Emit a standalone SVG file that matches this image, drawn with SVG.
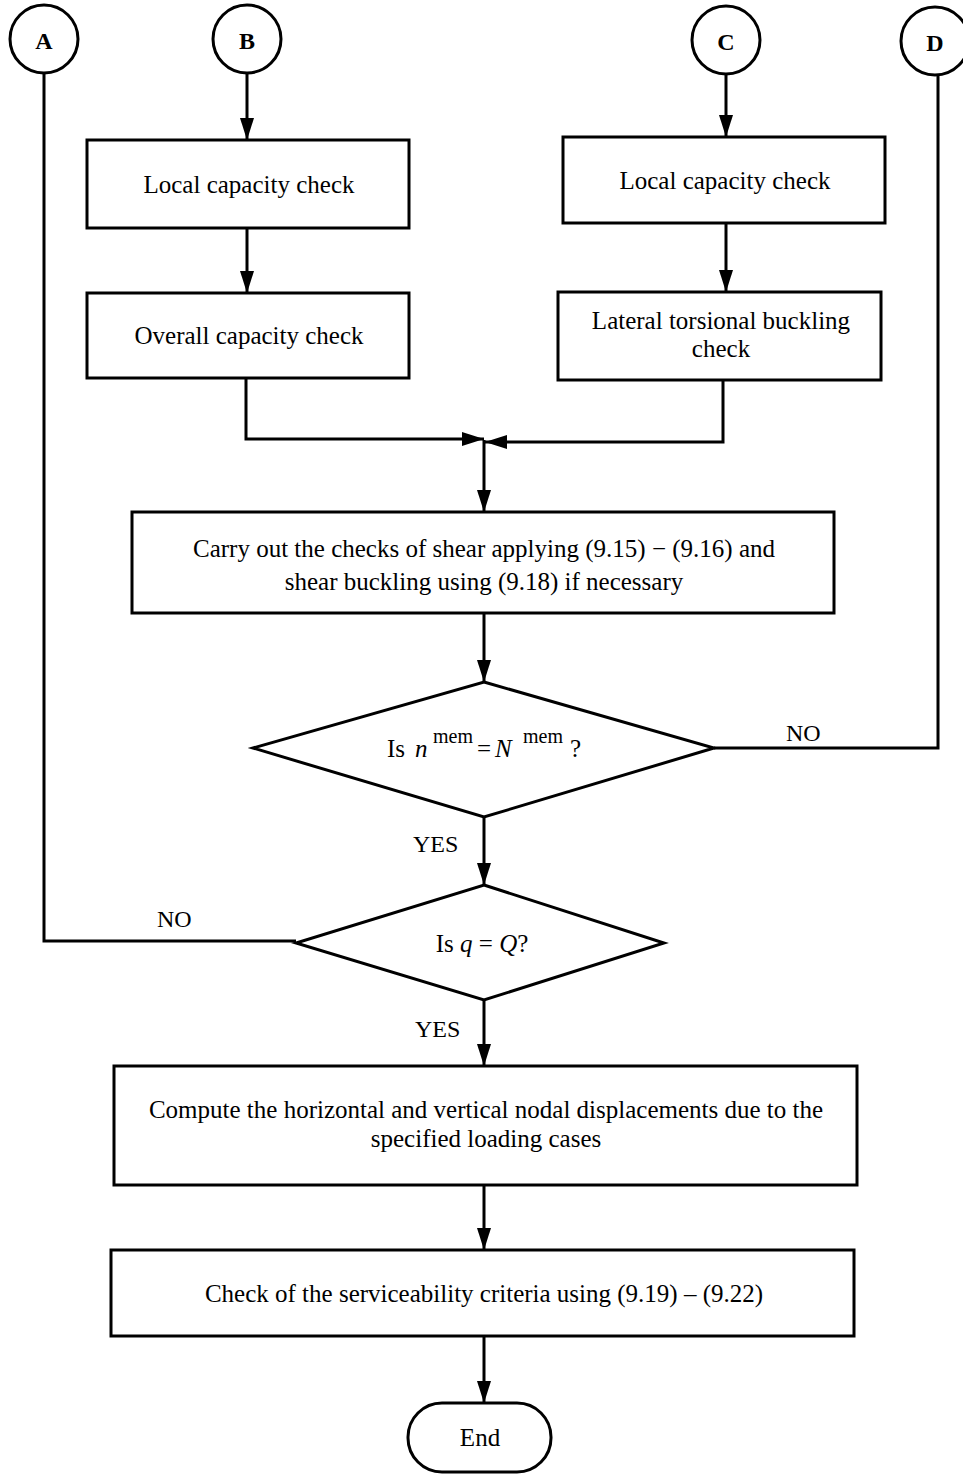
<svg xmlns="http://www.w3.org/2000/svg" width="963" height="1474" viewBox="0 0 963 1474">
<style>
.box{fill:#fff;stroke:#000;stroke-width:3}
.ln{fill:none;stroke:#000;stroke-width:3}
.t{font-family:"Liberation Serif","Times New Roman",serif;font-size:25px;fill:#000;text-anchor:middle}
.lb{font-family:"Liberation Serif","Times New Roman",serif;font-size:24px;fill:#000}
.eq{font-family:"Liberation Serif","Times New Roman",serif;font-size:25px;fill:#000}
.sup{font-size:20px}
.cl{font-family:"Liberation Serif","Times New Roman",serif;font-size:24px;font-weight:bold;fill:#000;text-anchor:middle}
.i{font-style:italic}
</style>
<defs>
<marker id="ar" viewBox="0 0 22 14" refX="22" refY="7" markerWidth="22" markerHeight="14" markerUnits="userSpaceOnUse" orient="auto">
<path d="M0,0 L22,7 L0,14 Z" fill="#000"/>
</marker>
</defs>
<rect width="963" height="1474" fill="#fff"/>
<g id="connectors">
<path class="ln" d="M44,73 V941 H296"/>
<path class="ln" d="M247,73 V140" marker-end="url(#ar)"/>
<path class="ln" d="M726,74 V137" marker-end="url(#ar)"/>
<path class="ln" d="M938,75 V748 H714"/>
<path class="ln" d="M247,228 V293" marker-end="url(#ar)"/>
<path class="ln" d="M726,223 V292" marker-end="url(#ar)"/>
<path class="ln" d="M246,378 V439 H484" marker-end="url(#ar)"/>
<path class="ln" d="M723,380 V442 H485" marker-end="url(#ar)"/>
<path class="ln" d="M484,440 V512" marker-end="url(#ar)"/>
<path class="ln" d="M484,613 V682" marker-end="url(#ar)"/>
<path class="ln" d="M484,817 V885" marker-end="url(#ar)"/>
<path class="ln" d="M484,1000 V1066" marker-end="url(#ar)"/>
<path class="ln" d="M484,1185 V1250" marker-end="url(#ar)"/>
<path class="ln" d="M484,1336 V1403" marker-end="url(#ar)"/>
<text class="lb" x="413" y="852">YES</text>
<text class="lb" x="786" y="741">NO</text>
<text class="lb" x="157" y="927">NO</text>
<text class="lb" x="415" y="1037">YES</text>
</g>
<g id="A"><circle class="box" cx="44" cy="39" r="34"/><text class="cl" x="44" y="49">A</text></g>
<g id="B"><circle class="box" cx="247" cy="39" r="34"/><text class="cl" x="247" y="49">B</text></g>
<g id="C"><circle class="box" cx="726" cy="40" r="34"/><text class="cl" x="726" y="50">C</text></g>
<g id="D"><circle class="box" cx="935" cy="41" r="34"/><text class="cl" x="935" y="51">D</text></g>
<g id="b1"><rect class="box" x="87" y="140" width="322" height="88"/><text class="t" x="249" y="193">Local capacity check</text></g>
<g id="b2"><rect class="box" x="87" y="293" width="322" height="85"/><text class="t" x="249" y="344">Overall capacity check</text></g>
<g id="c1"><rect class="box" x="563" y="137" width="322" height="86"/><text class="t" x="725" y="189">Local capacity check</text></g>
<g id="c2"><rect class="box" x="558" y="292" width="323" height="88"/><text class="t" x="721" y="329">Lateral torsional buckling</text><text class="t" x="721" y="357">check</text></g>
<g id="shear"><rect class="box" x="132" y="512" width="702" height="101"/><text class="t" x="484" y="557">Carry out the checks of shear applying (9.15) − (9.16) and</text><text class="t" x="484" y="590">shear buckling using (9.18) if necessary</text></g>
<g id="d1"><polygon class="box" points="484,682 714,748 484,817 253,748"/><text class="eq" y="757"><tspan x="387">Is</tspan><tspan class="i" x="415">n</tspan><tspan class="sup" x="433" y="743">mem</tspan><tspan x="477" y="757">=</tspan><tspan class="i" x="495">N</tspan><tspan class="sup" x="523" y="743">mem</tspan><tspan x="570" y="757">?</tspan></text></g>
<g id="d2"><polygon class="box" points="484,885 664,943 484,1000 296,943"/><text class="t" x="482" y="952">Is <tspan class="i">q</tspan> = <tspan class="i">Q</tspan>?</text></g>
<g id="disp"><rect class="box" x="114" y="1066" width="743" height="119"/><text class="t" x="486" y="1118">Compute the horizontal and vertical nodal displacements due to the</text><text class="t" x="486" y="1147">specified loading cases</text></g>
<g id="serv"><rect class="box" x="111" y="1250" width="743" height="86"/><text class="t" x="484" y="1302">Check of the serviceability criteria using (9.19) – (9.22)</text></g>
<g id="end"><rect class="box" x="408" y="1403" width="143" height="69" rx="34" ry="34"/><text class="t" x="480" y="1446">End</text></g>
</svg>
